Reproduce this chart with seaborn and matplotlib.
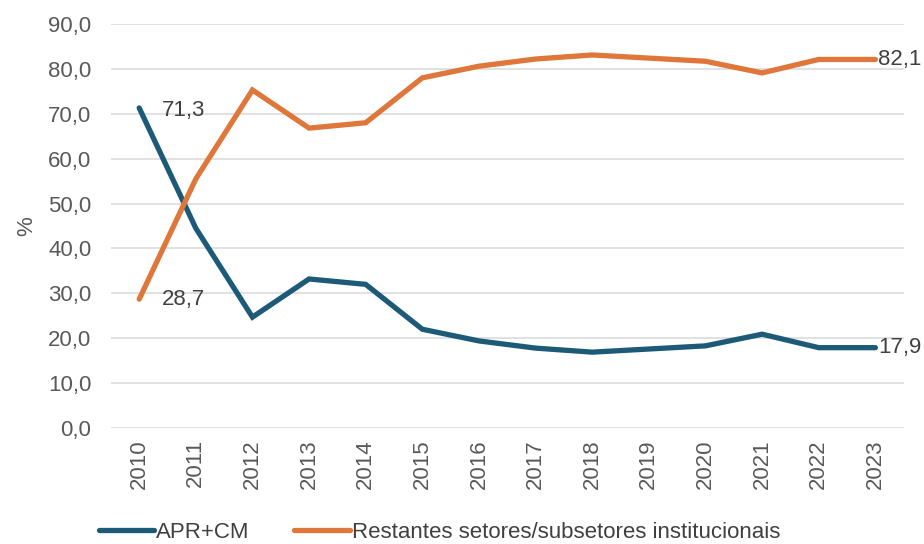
import matplotlib
matplotlib.use("Agg")
import matplotlib.pyplot as plt
import seaborn as sns
import pandas as pd
from matplotlib.lines import Line2D

years = list(range(2010, 2024))
apr_cm = [71.3, 44.5, 24.7, 33.2, 32.0, 22.0, 19.4, 17.8, 16.9, 17.6, 18.3, 20.9, 17.9, 17.9]
restantes = [28.7, 55.5, 75.3, 66.8, 68.0, 78.0, 80.6, 82.2, 83.1, 82.4, 81.7, 79.1, 82.1, 82.1]
series_names = ["APR+CM", "Restantes setores/subsetores institucionais"]
colors = ["#1d5a78", "#e0773a"]
yticks = [0, 10, 20, 30, 40, 50, 60, 70, 80, 90]

df = pd.DataFrame({
    "ano": years * 2,
    "valor": apr_cm + restantes,
    "serie": [series_names[0]] * len(years) + [series_names[1]] * len(years),
})

sns.set_style("white")
plt.rcParams["font.family"] = ["Liberation Sans", "DejaVu Sans"]
FS = 16

fig = plt.figure(figsize=(9.24, 5.44), dpi=100)
ax = fig.add_axes([0.12, 0.2132, 0.858, 0.7427])

sns.lineplot(data=df, x="ano", y="valor", hue="serie", palette=colors,
             linewidth=3.8, ax=ax, legend=False, sort=False)
for line in ax.get_lines():
    line.set_solid_capstyle("round")
    line.set_solid_joinstyle("miter")

ax.set_xlim(years[0] - 0.5, years[-1] + 0.5)
ax.set_ylim(0, 90)
ax.set_yticks(yticks)
ax.set_yticklabels([f"{v:.1f}".replace(".", ",") for v in yticks])
ax.set_xticks(years)
ax.set_xticklabels([str(y) for y in years], rotation=90)
ax.tick_params(axis="both", length=0, labelsize=FS, labelcolor="#595959")
ax.tick_params(axis="y", pad=14)
ax.tick_params(axis="x", pad=8)
ax.yaxis.grid(True, color="#d9d9d9", linewidth=1.1)
ax.set_axisbelow(True)
for s in ax.spines.values():
    s.set_visible(False)
ax.set_xlabel("")
ax.set_ylabel("%", fontsize=FS, color="#595959", labelpad=8)

def fmt(v):
    return f"{v:.1f}".replace(".", ",")

ann_color = "#404040"
ax.annotate(fmt(apr_cm[0]), (years[0], apr_cm[0]), xytext=(16, -2), textcoords="offset points",
            ha="left", va="center", fontsize=FS, color=ann_color)
ax.annotate(fmt(restantes[0]), (years[0], restantes[0]), xytext=(16, 0), textcoords="offset points",
            ha="left", va="center", fontsize=FS, color=ann_color)
ax.annotate(fmt(restantes[-1]), (years[-1], restantes[-1]), xytext=(2, 0), textcoords="offset points",
            ha="left", va="center", fontsize=FS, color=ann_color)
ax.annotate(fmt(apr_cm[-1]), (years[-1], apr_cm[-1]), xytext=(2, 0), textcoords="offset points",
            ha="left", va="center", fontsize=FS, color=ann_color)

handles = [Line2D([0], [0], color=c, linewidth=3.8, solid_capstyle="round") for c in colors]
fig.legend(handles, series_names, loc="lower left", bbox_to_anchor=(0.085, -0.035), ncol=2,
           frameon=False, fontsize=FS, handlelength=2.5, handletextpad=0.1,
           columnspacing=2.0, labelcolor=ann_color)

fig.savefig("out.png", dpi=100)
